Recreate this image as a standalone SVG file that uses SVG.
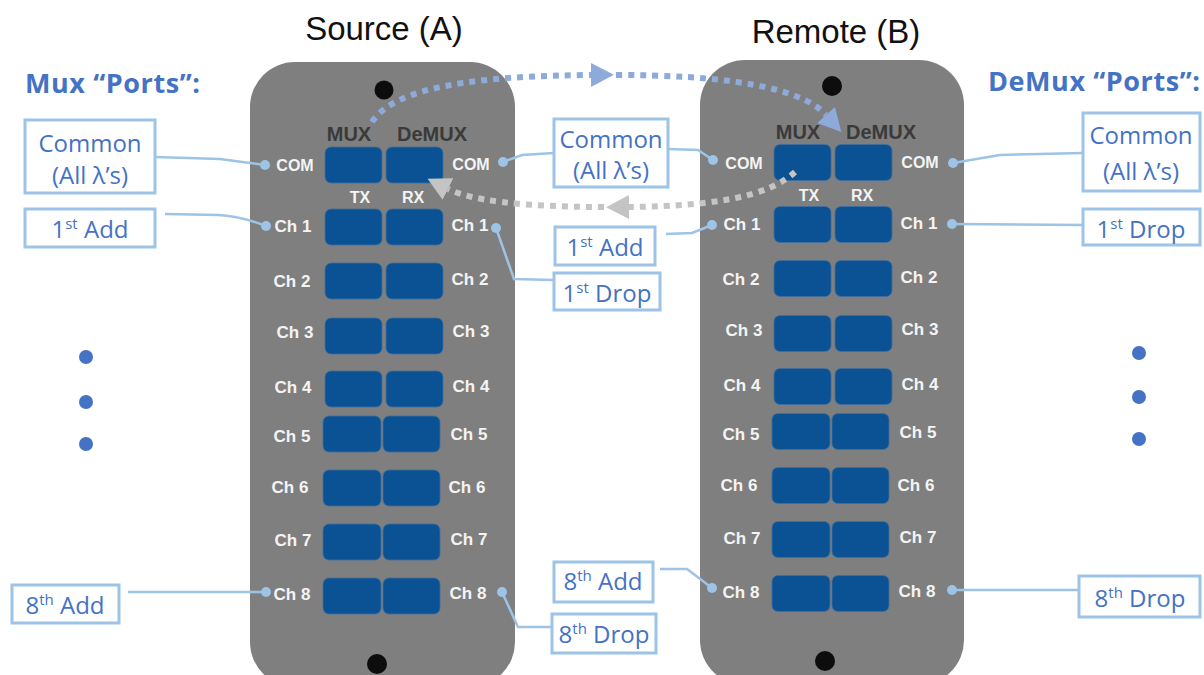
<svg xmlns="http://www.w3.org/2000/svg" width="1204" height="675" viewBox="0 0 1204 675">
<style>
.title{font-family:"Liberation Sans",Arial,sans-serif;font-size:33px;fill:#111;text-anchor:middle}
.hdr{font-family:"Open Sans","Liberation Sans",sans-serif;font-size:27px;font-weight:700;fill:#4472c4}
.body{fill:#7f7f7f}
.hole{fill:#0d0d0d}
.port{fill:#0b5294;stroke:#3f6e9e;stroke-width:0.8}
.pl{font-family:"Liberation Sans",Arial,sans-serif;font-weight:700;font-size:17px;fill:#f4f4f4;text-anchor:middle}
.com{font-size:16px}
.hd{font-family:"Liberation Sans",Arial,sans-serif;font-weight:700;font-size:20px;fill:#3a3a3a;text-anchor:middle}
.tr{font-family:"Liberation Sans",Arial,sans-serif;font-weight:700;font-size:16px;fill:#f4f4f4;text-anchor:middle}
.box{fill:#fff;stroke:#9dc3e6;stroke-width:3}
.bt{font-family:"Open Sans","Liberation Sans",sans-serif;font-size:24px;fill:#4472c4;text-anchor:middle}
.sup{font-size:15px}
.ln{fill:none;stroke:#9dc3e6;stroke-width:2.5}
.dot{fill:#9dc3e6}
.ell{fill:#4472c4}
.bdash{fill:none;stroke:#8eaadb;stroke-width:6;stroke-dasharray:6 6}
.gdash{fill:none;stroke:#c4c4c4;stroke-width:6;stroke-dasharray:6 6}
</style>
<defs>
<marker id="ab" markerUnits="userSpaceOnUse" markerWidth="24" markerHeight="24" refX="0" refY="11" orient="auto" viewBox="0 0 22 22">
<path d="M0,0 L21,11 L0,22 Z" fill="#8eaadb"/>
</marker>
<marker id="ag" markerUnits="userSpaceOnUse" markerWidth="24" markerHeight="24" refX="0" refY="11" orient="auto" viewBox="0 0 22 22">
<path d="M0,0 L21,11 L0,22 Z" fill="#c4c4c4"/>
</marker>
</defs>
<rect width="1204" height="675" fill="#fff"/>

<g id="titles">
<text class="title" x="384" y="40">Source (A)</text>
<text class="title" x="836" y="43">Remote (B)</text>
<text class="hdr" x="25" y="93" textLength="175">Mux “Ports”:</text>
<text class="hdr" x="988" y="91" textLength="212">DeMux “Ports”:</text>
</g>

<g id="source-A">
<rect class="body" x="250" y="62" width="265" height="625" rx="45"/>
<circle class="hole" cx="384" cy="90" r="9.5"/>
<circle class="hole" cx="377" cy="664" r="10"/>
<text class="hd" x="349" y="141">MUX</text>
<text class="hd" x="432" y="141">DeMUX</text>
<text class="tr" x="360" y="203">TX</text>
<text class="tr" x="413" y="203">RX</text>
<rect class="port" x="325" y="147" width="57" height="36" rx="6"/><rect class="port" x="386" y="147" width="57" height="36" rx="6"/>
<rect class="port" x="325" y="209" width="57" height="36" rx="6"/><rect class="port" x="386" y="209" width="57" height="36" rx="6"/>
<rect class="port" x="325" y="263" width="57" height="36" rx="6"/><rect class="port" x="386" y="263" width="57" height="36" rx="6"/>
<rect class="port" x="325" y="318" width="57" height="36" rx="6"/><rect class="port" x="386" y="318" width="57" height="36" rx="6"/>
<rect class="port" x="325" y="371" width="57" height="36" rx="6"/><rect class="port" x="386" y="371" width="57" height="36" rx="6"/>
<rect class="port" x="323" y="416" width="58" height="36" rx="6"/><rect class="port" x="383" y="416" width="57" height="36" rx="6"/>
<rect class="port" x="323" y="470" width="58" height="36" rx="6"/><rect class="port" x="383" y="470" width="57" height="36" rx="6"/>
<rect class="port" x="323" y="524" width="58" height="36" rx="6"/><rect class="port" x="383" y="524" width="57" height="36" rx="6"/>
<rect class="port" x="323" y="578" width="58" height="36" rx="6"/><rect class="port" x="383" y="578" width="57" height="36" rx="6"/>
<text class="pl com" x="295" y="171">COM</text><text class="pl com" x="471" y="170">COM</text>
<text class="pl" x="293" y="232">Ch 1</text><text class="pl" x="470" y="231">Ch 1</text>
<text class="pl" x="292" y="287">Ch 2</text><text class="pl" x="470" y="285">Ch 2</text>
<text class="pl" x="295" y="338">Ch 3</text><text class="pl" x="471" y="337">Ch 3</text>
<text class="pl" x="293" y="393">Ch 4</text><text class="pl" x="471" y="392">Ch 4</text>
<text class="pl" x="292" y="442">Ch 5</text><text class="pl" x="469" y="440">Ch 5</text>
<text class="pl" x="290" y="493">Ch 6</text><text class="pl" x="467" y="493">Ch 6</text>
<text class="pl" x="293" y="546">Ch 7</text><text class="pl" x="469" y="545">Ch 7</text>
<text class="pl" x="292" y="600">Ch 8</text><text class="pl" x="468" y="599">Ch 8</text>
</g>

<g id="remote-B">
<rect class="body" x="700" y="60" width="264" height="625" rx="45"/>
<circle class="hole" cx="832" cy="86" r="10"/>
<circle class="hole" cx="825" cy="661" r="10"/>
<g transform="translate(449,-2.5)">
<text class="hd" x="349" y="141">MUX</text>
<text class="hd" x="432" y="141">DeMUX</text>
<text class="tr" x="360" y="203">TX</text>
<text class="tr" x="413" y="203">RX</text>
<rect class="port" x="325" y="147" width="57" height="36" rx="6"/><rect class="port" x="386" y="147" width="57" height="36" rx="6"/>
<rect class="port" x="325" y="209" width="57" height="36" rx="6"/><rect class="port" x="386" y="209" width="57" height="36" rx="6"/>
<rect class="port" x="325" y="263" width="57" height="36" rx="6"/><rect class="port" x="386" y="263" width="57" height="36" rx="6"/>
<rect class="port" x="325" y="318" width="57" height="36" rx="6"/><rect class="port" x="386" y="318" width="57" height="36" rx="6"/>
<rect class="port" x="325" y="371" width="57" height="36" rx="6"/><rect class="port" x="386" y="371" width="57" height="36" rx="6"/>
<rect class="port" x="323" y="416" width="58" height="36" rx="6"/><rect class="port" x="383" y="416" width="57" height="36" rx="6"/>
<rect class="port" x="323" y="470" width="58" height="36" rx="6"/><rect class="port" x="383" y="470" width="57" height="36" rx="6"/>
<rect class="port" x="323" y="524" width="58" height="36" rx="6"/><rect class="port" x="383" y="524" width="57" height="36" rx="6"/>
<rect class="port" x="323" y="578" width="58" height="36" rx="6"/><rect class="port" x="383" y="578" width="57" height="36" rx="6"/>
<text class="pl com" x="295" y="171">COM</text><text class="pl com" x="471" y="170">COM</text>
<text class="pl" x="293" y="232">Ch 1</text><text class="pl" x="470" y="231">Ch 1</text>
<text class="pl" x="292" y="287">Ch 2</text><text class="pl" x="470" y="285">Ch 2</text>
<text class="pl" x="295" y="338">Ch 3</text><text class="pl" x="471" y="337">Ch 3</text>
<text class="pl" x="293" y="393">Ch 4</text><text class="pl" x="471" y="392">Ch 4</text>
<text class="pl" x="292" y="442">Ch 5</text><text class="pl" x="469" y="440">Ch 5</text>
<text class="pl" x="290" y="493">Ch 6</text><text class="pl" x="467" y="493">Ch 6</text>
<text class="pl" x="293" y="546">Ch 7</text><text class="pl" x="469" y="545">Ch 7</text>
<text class="pl" x="292" y="600">Ch 8</text><text class="pl" x="468" y="599">Ch 8</text>
</g>
</g>

<g id="label-mux-common"><rect class="box" x="25" y="120" width="130" height="73"/><text class="bt" x="90" y="152">Common</text><text class="bt" x="90" y="184">(All λ’s)</text></g>
<g id="label-mux-1st-add"><rect class="box" x="25" y="209" width="130" height="38"/><text class="bt" x="90" y="238">1<tspan class="sup" dy="-9">st</tspan><tspan dy="9"> Add</tspan></text></g>
<g id="label-mux-8th-add"><rect class="box" x="12" y="585" width="107" height="38"/><text class="bt" x="65" y="614">8<tspan class="sup" dy="-9">th</tspan><tspan dy="9"> Add</tspan></text></g>
<g id="label-center-common"><rect class="box" x="554" y="119" width="114" height="68"/><text class="bt" x="611" y="148">Common</text><text class="bt" x="611" y="179">(All λ’s)</text></g>
<g id="label-center-1st-add"><rect class="box" x="555" y="227" width="100" height="38"/><text class="bt" x="605" y="256">1<tspan class="sup" dy="-9">st</tspan><tspan dy="9"> Add</tspan></text></g>
<g id="label-center-1st-drop"><rect class="box" x="554" y="273" width="106" height="37"/><text class="bt" x="607" y="302">1<tspan class="sup" dy="-9">st</tspan><tspan dy="9"> Drop</tspan></text></g>
<g id="label-center-8th-add"><rect class="box" x="554" y="562" width="99" height="40"/><text class="bt" x="603" y="590">8<tspan class="sup" dy="-9">th</tspan><tspan dy="9"> Add</tspan></text></g>
<g id="label-center-8th-drop"><rect class="box" x="552" y="614" width="104" height="39"/><text class="bt" x="604" y="643">8<tspan class="sup" dy="-9">th</tspan><tspan dy="9"> Drop</tspan></text></g>
<g id="label-demux-common"><rect class="box" x="1083" y="113" width="117" height="78"/><text class="bt" x="1141" y="144">Common</text><text class="bt" x="1141" y="180">(All λ’s)</text></g>
<g id="label-demux-1st-drop"><rect class="box" x="1083" y="209" width="117" height="36"/><text class="bt" x="1141" y="238">1<tspan class="sup" dy="-9">st</tspan><tspan dy="9"> Drop</tspan></text></g>
<g id="label-demux-8th-drop"><rect class="box" x="1079" y="576" width="121" height="41"/><text class="bt" x="1140" y="607">8<tspan class="sup" dy="-9">th</tspan><tspan dy="9"> Drop</tspan></text></g>

<g id="ellipsis">
<circle class="ell" cx="86" cy="357" r="7"/><circle class="ell" cx="86" cy="402" r="7"/><circle class="ell" cx="86" cy="444" r="7"/>
<circle class="ell" cx="1139" cy="353" r="7"/><circle class="ell" cx="1139" cy="397" r="7"/><circle class="ell" cx="1139" cy="439" r="7"/>
</g>

<g id="connectors">
<path class="ln" d="M155,157 L220,159 L265,165"/>
<path class="ln" d="M165,214 L218,215 Q240,216 266,226"/>
<path class="ln" d="M128,592 L266,592"/>
<path class="ln" d="M503,162 L522,155 L554,153"/>
<path class="ln" d="M668,149 L698,150 L713,160"/>
<path class="ln" d="M496,228 L514,279 L554,280"/>
<path class="ln" d="M666,234 L692,233 L712,225"/>
<path class="ln" d="M660,569 L687,569 L712,588"/>
<path class="ln" d="M502,592 L518,627 L552,627"/>
<path class="ln" d="M953,163 L1000,155 L1083,153"/>
<path class="ln" d="M952,224 L1083,225"/>
<path class="ln" d="M952,590 L1079,590"/>
<circle class="dot" cx="265" cy="165" r="5"/>
<circle class="dot" cx="266" cy="226" r="5"/>
<circle class="dot" cx="266" cy="592" r="5"/>
<circle class="dot" cx="503" cy="162" r="5"/>
<circle class="dot" cx="496" cy="228" r="5"/>
<circle class="dot" cx="502" cy="592" r="5"/>
<circle class="dot" cx="713" cy="160" r="5"/>
<circle class="dot" cx="712" cy="225" r="5"/>
<circle class="dot" cx="712" cy="588" r="5"/>
<circle class="dot" cx="953" cy="163" r="5"/>
<circle class="dot" cx="952" cy="224" r="5"/>
<circle class="dot" cx="952" cy="590" r="5"/>
<path class="bdash" d="M372,122 C395,86 480,76 591,75" marker-end="url(#ab)"/>
<path class="bdash" d="M616,75 C720,75 800,86 826,115" marker-end="url(#ab)"/>
<path class="gdash" d="M795,172 C770,195 720,206 629,207" marker-end="url(#ag)"/>
<path class="gdash" d="M604,207 C520,207 470,200 448,189" marker-end="url(#ag)"/>
</g>
</svg>
